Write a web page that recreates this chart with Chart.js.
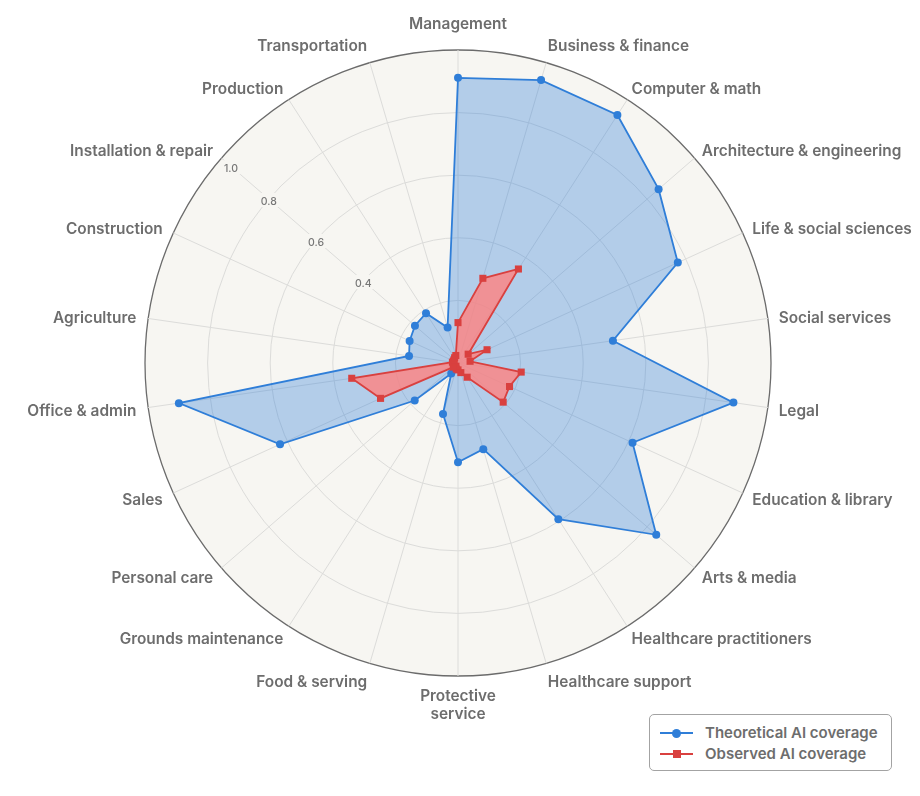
<!DOCTYPE html>
<html>
<head>
<meta charset="utf-8">
<script src="https://cdn.jsdelivr.net/npm/chart.js@4.4.1/dist/chart.umd.min.js"></script>
<style>
  html, body { margin: 0; padding: 0; background: #ffffff; }
  #wrap { position: relative; width: 920px; height: 796px; }
  #legend { position: absolute; left: 649px; top: 714px; width: 243px; height: 57px;
    border: 1px solid #a3a3a3; border-radius: 5px; background: #ffffff; box-sizing: border-box;
    font-family: Inter, "Noto Sans", sans-serif; font-weight: 600; font-size: 15px; color: #6d6d6d; }
  .item { position: absolute; left: 10px; height: 20px; line-height: 20px; white-space: nowrap; }
  .sample { position: absolute; left: 0; top: 9px; width: 33px; height: 2px; }
  .mk { position: absolute; }
  .txt { position: absolute; left: 45px; top: 0; }
</style>
</head>
<body>
<div id="wrap">
  <canvas id="c"></canvas>
  <div id="legend"></div>
</div>
<script>
const categories = [
  'Management', 'Business & finance', 'Computer & math', 'Architecture & engineering',
  'Life & social sciences', 'Social services', 'Legal', 'Education & library',
  'Arts & media', 'Healthcare practitioners', 'Healthcare support', ['Protective', 'service'],
  'Food & serving', 'Grounds maintenance', 'Personal care', 'Sales', 'Office & admin',
  'Agriculture', 'Construction', 'Installation & repair', 'Production', 'Transportation'
];
const theoretical = [0.911, 0.942, 0.942, 0.848, 0.772, 0.500, 0.889, 0.613, 0.838, 0.593, 0.287,
  0.317, 0.170, 0.040, 0.183, 0.625, 0.901, 0.158, 0.170, 0.182, 0.189, 0.118];
const observed = [0.129, 0.282, 0.357, 0.043, 0.102, 0.039, 0.204, 0.181, 0.191, 0.054, 0.032,
  0.022, 0.020, 0.012, 0.020, 0.272, 0.343, 0.018, 0.016, 0.016, 0.020, 0.025];
const tickValues = [0.4, 0.6, 0.8, 1.0];
const tickLabels = ['0.4', '0.6', '0.8', '1.0'];
const seriesNames = ['Theoretical AI coverage', 'Observed AI coverage'];

const BLUE = '#2f7ed8';
const RED = '#d9403f';
const BG = '#f7f6f2';
const FONT = 'Inter, "Noto Sans", sans-serif';
const tickSpoke = 'Installation & repair';

const labelPlugin = {
  id: 'customLabels',
  afterDraw(chart) {
    const s = chart.scales.r;
    const ctx = chart.ctx;
    const R = s.drawingArea;
    ctx.save();
    // tick labels along a spoke
    const si = categories.indexOf(tickSpoke);
    ctx.font = '500 10.5px ' + FONT;
    ctx.textAlign = 'center';
    ctx.textBaseline = 'middle';
    tickValues.forEach((v, k) => {
      const p = s.getPointPositionForValue(si, Math.min(v, 0.96));
      const w = ctx.measureText(tickLabels[k]).width;
      ctx.fillStyle = BG;
      ctx.fillRect(p.x - w / 2 - 3, p.y - 6, w + 6, 14);
      ctx.fillStyle = '#777777';
      ctx.fillText(tickLabels[k], p.x, p.y + 2.5);
    });
    // category labels
    ctx.font = '600 15.4px ' + FONT;
    ctx.fillStyle = '#6d6d6d';
    const lh = 18;
    categories.forEach((lab, i) => {
      const lines = Array.isArray(lab) ? lab : [lab];
      const a = s.getIndexAngle(i);
      const sn = Math.sin(a), cs = Math.cos(a);
      let x, cy;
      if (Math.abs(sn) < 0.01) {
        const p = s.getPointPosition(i, R + 9);
        ctx.textAlign = 'center';
        x = p.x;
        cy = cs > 0 ? p.y - lines.length * lh / 2 - 8 : p.y + lines.length * lh / 2 + 2.5;
      } else {
        const e = s.getPointPosition(i, R);
        const p = s.getPointPosition(i, R + 9);
        const gap = 11 * Math.pow(Math.abs(sn), 1.5) + (sn < 0 ? 1 : 0);
        ctx.textAlign = sn > 0 ? 'left' : 'right';
        x = e.x + (sn > 0 ? gap : -gap);
        const f = 4 * cs + 8 * Math.sign(cs) * Math.pow(Math.abs(cs), 12);
        cy = p.y - f + 1.5;
      }
      lines.forEach((t, k) => ctx.fillText(t, x, cy + (k - (lines.length - 1) / 2) * lh));
    });
    ctx.restore();
  }
};

new Chart(document.getElementById('c'), {
  type: 'radar',
  data: {
    labels: categories,
    datasets: [
      {
        label: seriesNames[0], data: theoretical, order: 2, fill: true,
        borderColor: BLUE, backgroundColor: 'rgba(47,126,216,0.34)', borderWidth: 1.8,
        pointStyle: 'circle', pointRadius: 4, pointBackgroundColor: BLUE, pointBorderColor: BLUE, pointBorderWidth: 0
      },
      {
        label: seriesNames[1], data: observed, order: 1, fill: true,
        borderColor: RED, backgroundColor: 'rgba(255,130,128,0.8)', borderWidth: 1.8,
        pointStyle: 'rect', pointRadius: 5, pointBackgroundColor: RED, pointBorderColor: RED, pointBorderWidth: 0
      }
    ]
  },
  options: {
    responsive: true,
    maintainAspectRatio: false,
    animation: false,
    layout: { padding: { left: 145, right: 149, top: 50, bottom: 120 } },
    plugins: { legend: { display: false }, tooltip: { enabled: false } },
    elements: { line: { tension: 0 } },
    scales: {
      r: {
        min: 0, max: 1,
        backgroundColor: BG,
        ticks: { display: false, stepSize: 0.2 },
        pointLabels: { display: false },
        grid: {
          circular: true,
          color: (c) => (c.tick && c.tick.value > 0.99) ? '#6b6b6b' : '#dcdcda',
          lineWidth: (c) => (c.tick && c.tick.value > 0.99) ? 1.3 : 1
        },
        angleLines: { color: '#dcdcda', lineWidth: 1 }
      }
    }
  },
  plugins: [labelPlugin]
});

// HTML legend
const legend = document.getElementById('legend');
const colors = [BLUE, RED];
seriesNames.forEach((name, k) => {
  const it = document.createElement('div');
  it.className = 'item';
  it.style.top = (k === 0 ? 8 : 29) + 'px';
  const line = document.createElement('div');
  line.className = 'sample';
  line.style.background = colors[k];
  const mk = document.createElement('div');
  mk.className = 'mk';
  mk.style.background = colors[k];
  if (k === 0) { mk.style.width = '9px'; mk.style.height = '9px'; mk.style.borderRadius = '50%'; mk.style.left = '12px'; mk.style.top = '5.5px'; }
  else { mk.style.width = '8px'; mk.style.height = '8px'; mk.style.left = '12.5px'; mk.style.top = '6px'; }
  const tx = document.createElement('span');
  tx.className = 'txt';
  tx.textContent = name;
  it.appendChild(line); it.appendChild(mk); it.appendChild(tx);
  legend.appendChild(it);
});
</script>
</body>
</html>
